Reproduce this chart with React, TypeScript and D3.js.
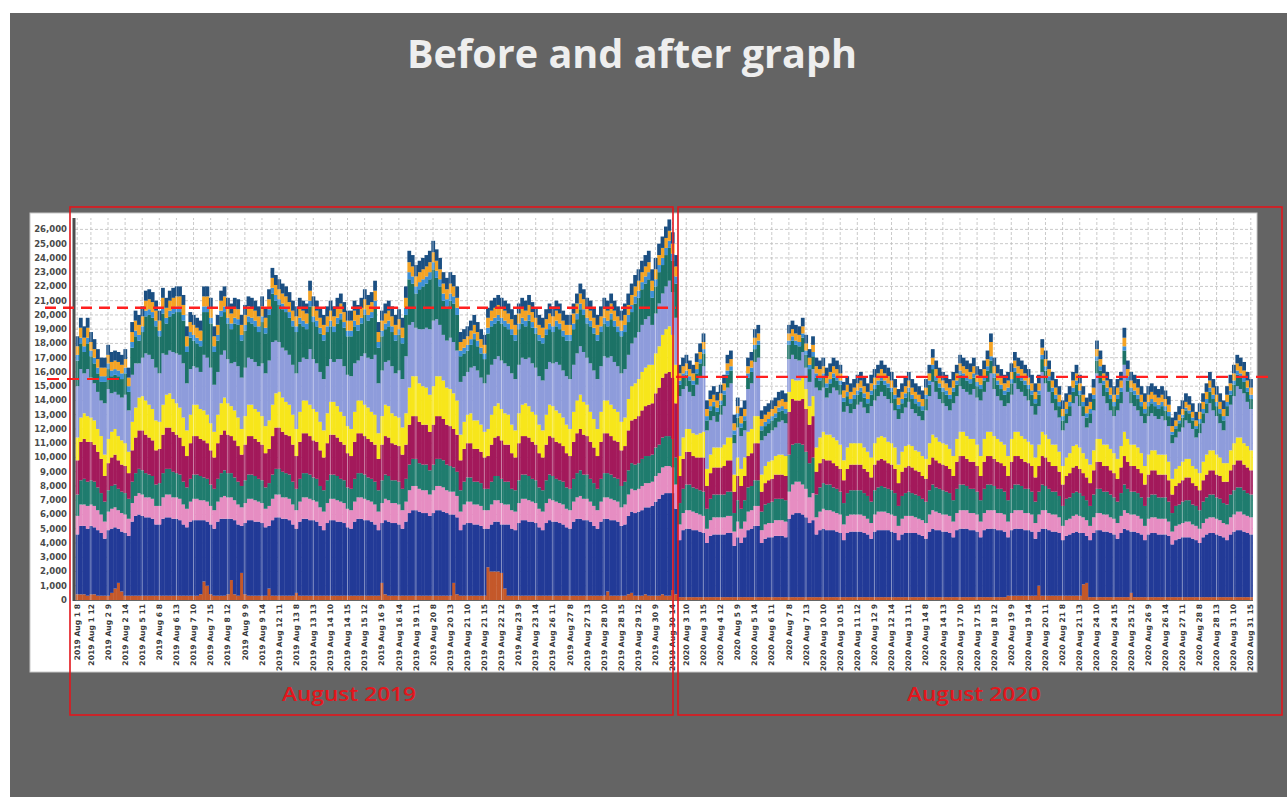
import React, { useEffect, useRef } from "react";
import * as d3 from "d3";

const W = 1287;
const H = 797;

// weekdays shown, hourly bars 8..15
const days2019 = [1, 2, 5, 6, 7, 8, 9, 12, 13, 14, 15, 16, 19, 20, 21, 22, 23, 26, 27, 28, 29, 30];
const days2020 = [3, 4, 5, 6, 7, 10, 11, 12, 13, 14, 17, 18, 19, 20, 21, 24, 25, 26, 27, 28, 31];
const hours = [8, 9, 10, 11, 12, 13, 14, 15];

const yTicks = d3.range(0, 26001, 1000);
const avg2019 = 20500;
const avg2020 = 15650;

// values in hundreds, one row per day (22 rows for 2019, then 21 rows for 2020)
const brown = [
  [4,4,4,3,4,4,3,3],[3,3,5,8,12,6,3,3],[3,3,3,3,3,3,3,3],[3,3,3,3,3,3,3,3],[3,3,3,3,4,13,10,4],
  [3,3,3,3,4,14,4,3],[19,4,3,3,3,3,3,3],[8,3,3,3,3,3,3,3],[5,3,3,3,3,3,3,3],[3,3,3,3,3,3,3,3],
  [3,3,3,3,3,3,3,3],[3,12,4,3,3,3,3,3],[3,3,3,3,3,3,3,3],[3,3,3,3,3,3,12,4],[3,3,3,3,3,3,3,3],
  [23,20,20,20,19,8,3,3],[3,3,3,3,3,3,3,3],[3,3,3,3,3,3,3,3],[3,3,3,3,3,3,3,3],[3,3,3,6,3,3,3,3],
  [3,4,5,3,3,3,4,3],[3,3,3,4,3,3,7,4],
  [2,2,2,2,2,2,2,2],[2,2,2,2,2,2,2,2],[2,2,2,2,2,2,2,2],[2,2,2,2,2,2,2,2],[2,2,2,2,2,2,2,2],
  [2,2,2,2,2,2,2,2],[2,2,2,2,2,2,2,2],[2,2,2,2,2,2,2,2],[2,2,2,2,2,2,2,2],[2,2,2,2,2,2,2,2],
  [2,2,2,2,2,2,2,2],[2,2,2,2,2,2,2,2],[3,3,3,3,3,3,3,3],[3,10,3,3,3,3,3,3],[3,3,3,3,3,3,11,12],
  [2,2,2,2,2,2,2,2],[2,2,2,2,5,2,2,2],[2,2,2,2,2,2,2,2],[2,2,2,2,2,2,2,2],[2,2,2,2,2,2,2,2],
  [2,2,2,2,2,2,2,2],
];
const blue = [
  [42,48,48,47,48,47,46,44],[40,46,45,43,38,42,44,42],[52,56,57,56,55,55,54,50],[50,54,55,55,54,54,53,50],
  [48,52,53,53,52,43,45,49],[47,52,54,54,53,43,52,50],[33,50,53,53,52,52,51,48],[44,53,55,55,54,54,53,50],
  [45,52,54,54,53,53,52,49],[46,51,53,53,52,52,51,48],[47,52,54,54,53,53,52,50],[46,42,52,52,51,51,50,47],
  [52,58,60,60,59,58,58,56],[58,60,60,59,58,57,48,54],[46,50,51,51,50,50,49,47],[27,33,35,35,34,45,50,47],
  [46,51,53,53,52,52,51,48],[46,51,53,52,52,51,50,48],[47,52,54,54,53,53,52,49],[47,52,54,51,53,53,52,49],
  [50,55,57,58,59,60,61,62],[63,66,68,70,72,72,68,60],
  [40,47,48,48,47,47,46,45],[38,43,44,44,44,44,45,45],[36,42,38,42,47,48,50,50],[38,41,42,42,43,43,43,42],
  [55,58,59,59,58,56,52,54],[44,47,48,47,47,47,46,45],[40,45,46,46,46,46,45,44],[41,46,47,47,47,47,46,45],
  [40,44,45,45,45,45,44,43],[41,46,48,47,47,46,46,45],[42,47,48,48,48,47,47,46],[42,47,48,48,48,47,47,46],
  [41,46,47,47,47,46,46,45],[40,38,47,47,46,45,45,44],[39,42,43,44,45,44,36,33],[40,45,47,47,46,46,45,44],
  [41,45,48,47,43,46,45,44],[40,44,45,45,44,44,44,43],[37,40,41,42,42,42,41,40],[38,42,44,45,45,44,43,42],
  [40,44,46,47,47,46,45,44],
];
const pink = [
  [13,15,15,16,15,15,14,13],[12,13,14,14,13,13,13,12],[13,14,15,15,14,14,14,13],[13,15,16,16,15,15,15,14],
  [13,14,15,15,14,14,14,13],[13,14,15,16,15,15,14,14],[13,14,15,15,15,14,14,13],[14,15,16,16,15,15,15,14],
  [13,14,15,15,15,14,14,13],[13,14,15,15,15,14,14,13],[13,14,15,15,15,14,14,14],[13,14,15,15,14,14,14,13],
  [14,16,17,17,16,16,16,15],[16,17,17,17,16,16,16,15],[13,14,15,15,14,14,14,13],[13,14,15,15,15,14,14,13],
  [13,14,15,15,15,14,14,13],[13,14,15,15,14,14,14,13],[13,14,15,16,15,15,14,14],[13,14,15,15,15,14,14,13],
  [14,15,16,16,16,17,17,17],[17,18,18,19,19,19,18,17],
  [11,12,13,13,13,12,12,12],[10,11,12,12,12,12,12,12],[10,11,10,11,13,13,14,14],[9,10,10,10,11,11,11,11],
  [19,21,22,22,21,20,18,19],[12,13,14,14,14,13,13,13],[11,12,12,12,12,12,12,11],[11,12,13,13,13,12,12,12],
  [10,11,12,12,12,11,11,11],[11,12,13,13,12,12,12,12],[11,12,13,13,13,12,12,12],[11,12,13,13,13,12,12,12],
  [11,12,13,13,13,12,12,12],[11,12,13,13,12,12,12,11],[10,11,11,12,12,12,11,11],[10,11,12,12,12,12,11,11],
  [11,12,13,12,12,12,12,11],[10,11,11,11,11,11,11,10],[9,10,10,10,11,11,10,10],[10,10,11,11,11,11,11,10],
  [11,12,12,13,13,12,12,12],
];
const teal = [
  [15,17,18,17,17,17,16,15],[14,15,16,16,15,15,15,14],[15,16,17,17,17,16,16,15],[16,17,18,18,18,17,17,16],
  [15,16,17,17,17,16,16,15],[15,16,17,18,17,17,16,16],[15,16,17,17,17,16,16,15],[16,17,18,18,18,17,17,16],
  [15,16,17,17,17,16,16,15],[15,16,17,17,17,16,16,15],[15,16,17,17,17,16,16,16],[15,16,17,17,16,16,16,15],
  [16,18,19,19,18,18,18,17],[18,19,19,19,18,18,17,17],[15,16,17,17,16,16,16,15],[15,16,17,17,17,16,16,15],
  [15,16,17,17,17,16,16,15],[15,16,17,17,16,16,16,15],[15,16,17,18,17,17,16,16],[15,16,17,17,17,16,16,15],
  [16,17,18,18,18,19,19,19],[19,20,20,21,21,21,20,19],
  [15,17,18,18,17,17,17,17],[14,15,16,16,16,16,17,17],[13,15,14,15,17,17,18,18],[13,14,14,15,15,15,15,15],
  [26,28,27,27,28,26,24,25],[16,17,18,18,18,17,17,16],[15,16,17,17,17,17,16,16],[15,17,17,18,17,17,17,16],
  [14,16,16,17,16,16,16,15],[15,17,18,17,17,17,16,16],[15,17,18,18,17,17,17,16],[15,17,18,18,17,17,17,16],
  [15,17,18,18,17,17,17,16],[15,16,18,17,17,16,16,15],[14,15,15,16,16,16,15,14],[14,16,17,17,16,16,16,15],
  [15,16,18,17,16,16,16,15],[14,15,16,16,15,15,15,14],[13,14,14,15,15,15,14,14],[13,15,15,16,16,15,15,14],
  [14,16,17,17,17,17,16,16],
];
const crimson = [
  [24,27,28,28,27,26,25,24],[18,19,20,21,20,19,19,18],[22,25,27,28,27,26,25,24],[24,27,29,29,28,27,26,25],
  [22,25,27,27,26,26,25,24],[22,25,27,28,27,26,26,25],[22,25,27,27,26,26,25,24],[24,27,29,29,28,27,27,26],
  [23,26,28,28,27,26,26,25],[23,26,28,28,27,26,25,24],[23,26,28,28,27,27,26,26],[22,25,27,27,26,25,25,24],
  [24,28,30,30,29,28,28,27],[28,30,30,29,28,28,27,26],[21,23,24,24,23,23,22,22],[23,26,27,28,27,26,26,25],
  [23,26,27,27,27,26,25,24],[23,25,27,27,26,26,25,24],[23,26,28,29,28,27,26,25],[23,26,28,28,27,26,26,25],
  [25,28,30,32,33,34,35,36],[36,38,40,42,44,45,43,38],
  [19,21,23,23,22,22,23,24],[16,18,19,19,19,20,22,22],[15,17,16,17,22,23,26,26],[14,15,16,16,17,17,17,17],
  [30,32,30,30,32,30,27,29],[16,17,17,17,17,17,16,16],[16,17,18,18,18,18,17,17],[17,18,19,19,19,18,18,17],
  [16,17,18,18,18,17,17,16],[16,18,19,19,18,18,18,17],[17,19,20,20,19,19,19,18],[17,19,20,20,19,19,18,18],
  [17,19,20,20,19,19,18,18],[17,18,20,20,19,18,18,17],[15,16,17,18,18,17,16,16],[16,17,19,19,18,18,17,17],
  [16,18,20,19,18,18,17,17],[15,16,17,17,16,16,16,15],[13,14,15,15,16,16,15,14],[14,15,16,17,17,16,16,15],
  [16,17,18,19,19,18,18,17],
];
const yellow = [
  [16,17,18,18,17,17,16,16],[15,17,18,18,17,17,16,15],[20,21,23,24,24,23,22,21],[19,21,23,24,23,22,21,20],
  [18,20,22,22,21,21,20,19],[18,20,22,23,22,21,21,20],[18,20,22,22,21,21,20,19],[20,22,24,25,24,23,22,21],
  [19,21,23,23,22,22,21,20],[19,21,23,23,22,21,20,19],[19,21,23,23,22,22,21,21],[18,20,22,22,21,20,20,19],
  [22,26,28,28,27,27,26,26],[27,28,28,27,26,26,25,24],[18,19,20,21,20,20,19,18],[19,21,22,23,22,22,21,20],
  [19,21,22,23,22,21,21,20],[19,21,22,22,22,21,20,20],[19,21,23,24,23,22,21,20],[19,21,23,23,22,22,21,20],
  [20,22,24,25,26,27,27,28],[27,28,29,30,31,32,30,27],
  [14,15,16,16,16,16,17,18],[12,13,14,14,14,15,16,16],[12,13,12,13,17,17,19,19],[12,12,13,13,13,14,14,14],
  [14,14,14,14,15,14,13,14],[17,18,19,18,18,18,18,17],[14,15,15,15,15,15,15,14],[14,15,16,16,16,15,15,15],
  [13,14,15,15,15,14,14,14],[14,15,16,16,15,15,15,14],[14,16,17,17,16,16,16,15],[14,16,17,17,16,16,15,15],
  [14,16,17,17,16,16,15,15],[14,15,17,16,16,15,15,14],[13,13,14,15,15,15,14,13],[13,14,16,16,15,15,15,14],
  [14,15,17,16,15,15,15,14],[13,14,14,14,14,14,14,13],[11,12,12,13,13,13,12,12],[12,13,14,14,14,14,13,13],
  [13,14,15,16,16,15,15,14],
];
const lavender = [
  [36,34,28,33,28,26,26,25],[36,35,27,26,29,30,34,29],[33,31,24,27,33,35,35,37],[34,36,28,30,33,35,37,38],
  [33,32,27,26,26,39,40,39],[33,30,34,33,31,30,34,36],[36,34,33,32,33,32,37,37],[42,44,37,35,35,36,35,35],
  [39,35,30,29,39,35,34,35],[36,33,30,28,33,37,35,36],[37,34,28,31,36,35,37,42],[35,32,30,32,33,30,33,34],
  [40,44,38,34,38,40,42,46],[46,40,36,32,33,36,36,35],[37,32,30,32,38,35,33,34],[38,35,33,33,34,35,34,36],
  [36,34,33,31,34,34,33,34],[35,32,30,30,34,34,33,34],[35,33,33,34,35,33,34,34],[35,32,31,30,34,33,32,34],
  [34,31,30,32,33,33,34,34],[28,28,30,29,30,32,30,33],
  [42,34,30,26,26,35,40,46],[27,24,22,18,23,27,35,38],[22,21,23,19,30,32,38,41],[24,21,20,21,20,23,24,23],
  [23,17,15,14,18,15,17,19],[42,33,31,26,29,35,35,35],[34,29,21,24,27,29,28,27],[36,30,29,31,29,30,28,26],
  [32,27,27,30,26,26,25,25],[34,33,37,32,30,28,27,27],[37,30,32,30,31,31,35,33],[39,33,35,41,33,30,29,27],
  [37,31,34,30,31,30,29,27],[30,27,42,36,33,29,24,24],[25,24,26,30,34,29,26,22],[29,28,46,39,34,29,27,26],
  [34,30,47,33,29,27,26,26],[30,27,26,24,25,27,24,25],[25,22,24,24,27,25,26,22],[28,27,29,33,28,27,24,23],
  [33,32,33,36,34,35,31,29],
];
const green = [
  [18,18,15,18,15,14,13,13],[15,14,12,12,13,13,15,13],[19,19,16,18,26,28,29,29],[26,28,22,24,27,29,30,30],
  [22,22,18,17,18,30,32,31],[23,22,27,27,25,24,27,29],[26,26,25,25,25,24,29,28],[32,34,28,26,27,27,26,27],
  [29,27,22,21,30,26,26,27],[27,24,23,21,25,28,27,27],[28,26,21,23,27,26,29,34],[25,24,23,24,24,23,25,25],
  [29,32,27,24,28,30,31,35],[36,29,27,24,24,26,27,25],[18,16,15,16,19,17,17,17],[29,27,25,25,26,26,26,27],
  [27,25,24,23,26,25,24,25],[26,24,23,22,25,25,24,25],[27,25,24,26,26,24,26,26],[27,24,23,22,26,25,24,26],
  [26,23,22,24,24,25,25,26],[19,19,22,20,22,23,22,24],
  [8,8,8,8,8,8,9,9],[7,7,7,7,7,8,9,9],[6,7,6,7,8,8,9,9],[7,7,7,7,7,7,7,7],
  [10,10,10,10,10,9,9,9],[7,7,7,7,7,7,7,7],[7,7,7,7,7,7,7,7],[8,8,8,8,8,8,8,8],
  [7,7,7,7,7,7,7,7],[8,8,9,8,8,8,8,8],[8,8,8,8,8,8,8,8],[8,8,8,9,8,8,8,8],
  [8,8,8,8,8,8,8,8],[8,8,9,9,8,8,8,8],[7,7,7,8,8,8,7,7],[7,8,9,9,8,8,8,7],
  [8,8,10,8,8,8,8,7],[7,7,7,7,7,7,7,7],[6,6,6,7,7,7,6,6],[7,7,7,8,8,7,7,7],
  [7,7,8,8,8,8,7,7],
];
const lightBlue = [
  [4,4,4,4,4,4,4,4],[4,4,4,4,4,4,4,4],[4,4,4,4,4,4,4,4],[4,4,4,4,4,4,4,4],[4,4,4,4,4,4,4,4],
  [4,4,4,4,4,4,4,4],[4,4,4,4,4,4,4,4],[4,4,4,4,4,4,4,4],[4,4,4,4,4,4,4,4],[4,4,4,4,4,4,4,4],
  [4,4,4,4,4,4,4,4],[4,4,4,4,4,4,4,4],[5,5,5,5,5,5,5,5],[5,5,5,5,5,5,5,5],[4,4,4,4,4,4,4,4],
  [4,4,4,4,4,4,4,4],[4,4,4,4,4,4,4,4],[4,4,4,4,4,4,4,4],[4,4,4,4,4,4,4,4],[4,4,4,4,4,4,4,4],
  [5,5,5,5,5,5,5,5],[5,5,5,5,5,5,5,5],
  [3,3,3,3,3,3,3,3],[3,3,3,3,3,3,3,3],[3,3,3,3,3,3,3,3],[3,3,3,3,3,3,3,3],[3,3,3,3,3,3,3,3],
  [3,3,3,3,3,3,3,3],[3,3,3,3,3,3,3,3],[3,3,3,3,3,3,3,3],[3,3,3,3,3,3,3,3],[3,3,3,3,3,3,3,3],
  [3,3,3,3,3,3,3,3],[3,3,3,3,3,3,3,3],[3,3,3,3,3,3,3,3],[3,3,3,3,3,3,3,3],[3,3,3,3,3,3,3,3],
  [3,3,3,3,3,3,3,3],[3,3,3,3,3,3,3,3],[3,3,3,3,3,3,3,3],[2,2,2,2,2,2,2,2],[3,3,3,3,3,3,3,3],
  [3,3,3,3,3,3,3,3],
];
const orange = [
  [6,7,6,7,6,6,6,6],[6,6,6,6,6,6,6,6],[7,7,7,7,7,7,7,7],[7,7,7,7,7,7,7,7],[7,7,7,7,7,7,7,7],
  [7,7,7,7,7,7,7,7],[7,7,7,7,7,7,7,7],[7,7,7,7,7,7,7,7],[7,7,7,7,7,7,7,7],[7,7,7,7,7,7,7,7],
  [7,7,7,7,7,7,7,7],[7,7,7,7,7,7,7,7],[7,7,7,7,7,7,7,7],[7,7,7,7,7,7,7,7],[6,6,6,6,6,6,6,6],
  [7,7,7,7,7,7,7,7],[7,7,7,7,7,7,7,7],[7,7,7,7,7,7,7,7],[7,7,7,7,7,7,7,7],[7,7,7,7,7,7,7,7],
  [7,7,7,7,7,7,7,7],[7,7,7,7,7,7,7,7],
  [5,5,5,5,5,5,5,5],[5,5,5,5,5,5,5,5],[5,5,5,5,5,5,5,5],[5,5,5,5,5,5,5,5],[5,5,5,5,5,5,5,5],
  [5,5,5,5,5,5,5,5],[5,5,5,5,5,5,5,5],[5,5,5,5,5,5,5,5],[5,5,5,5,5,5,5,5],[5,5,5,5,5,5,5,5],
  [5,5,5,5,5,5,5,5],[5,5,5,10,5,5,5,5],[5,5,5,5,5,5,5,5],[5,5,5,5,5,5,5,5],[5,5,5,5,5,5,5,5],
  [5,5,5,5,5,5,5,5],[5,5,6,5,5,5,5,5],[5,5,5,5,5,5,5,5],[4,4,4,4,4,4,4,4],[5,5,5,5,5,5,5,5],
  [5,5,5,5,5,5,5,5],
];
const navy = [
  [7,7,8,7,7,7,7,7],[7,7,7,7,7,7,7,7],[7,7,7,7,7,7,7,7],[7,7,7,7,7,7,7,7],[7,7,7,7,7,7,7,7],
  [7,7,7,7,7,7,7,7],[7,7,7,7,7,7,7,7],[7,7,7,7,7,7,7,7],[7,7,7,7,7,7,7,7],[7,7,7,7,7,7,7,7],
  [7,7,7,7,7,7,7,7],[7,7,7,7,7,7,7,7],[8,8,8,8,8,8,8,8],[8,8,8,8,8,8,8,8],[7,7,7,7,7,7,7,7],
  [7,7,7,7,7,7,7,7],[7,7,7,7,7,7,7,7],[7,7,7,7,7,7,7,7],[7,7,7,7,7,7,7,7],[7,7,7,7,7,7,7,7],
  [8,8,8,8,8,8,8,8],[8,8,8,8,8,8,8,8],
  [6,6,6,6,6,6,6,6],[6,6,6,6,6,6,6,6],[6,6,6,6,6,6,6,6],[6,6,6,6,6,6,6,6],[6,6,6,6,6,6,6,6],
  [6,6,6,6,6,6,6,6],[6,6,6,6,6,6,6,6],[6,6,6,6,6,6,6,6],[6,6,6,6,6,6,6,6],[6,6,6,6,6,6,6,6],
  [6,6,6,6,6,6,6,6],[6,6,6,6,6,6,6,6],[6,6,6,6,6,6,6,6],[6,6,6,6,6,6,6,6],[6,6,6,6,6,6,6,6],
  [6,6,6,6,6,6,6,6],[6,6,7,6,6,6,6,6],[6,6,6,6,6,6,6,6],[6,6,6,6,6,6,6,6],[6,6,6,6,6,6,6,6],
  [6,6,6,6,6,6,6,6],
];

const series = [
  { key: "brown", rows: brown, color: "#c4582a" },
  { key: "blue", rows: blue, color: "#223a97" },
  { key: "pink", rows: pink, color: "#e68dc2" },
  { key: "teal", rows: teal, color: "#1f7c6e" },
  { key: "crimson", rows: crimson, color: "#a3195b" },
  { key: "yellow", rows: yellow, color: "#f7e61b" },
  { key: "lavender", rows: lavender, color: "#8e9cdb" },
  { key: "green", rows: green, color: "#1c7266" },
  { key: "lightBlue", rows: lightBlue, color: "#3d8fd6" },
  { key: "orange", rows: orange, color: "#f4a324" },
  { key: "navy", rows: navy, color: "#1b4f82" },
];

function App() {
  const ref = useRef<SVGSVGElement>(null);

  useEffect(() => {
    const svg = d3.select(ref.current);
    svg.selectAll("*").remove();

    // categories: year / day / hour
    const cats: string[] = [];
    days2019.forEach((d) => hours.forEach((h) => cats.push(`2019 Aug ${d} ${h}`)));
    days2020.forEach((d) => hours.forEach((h) => cats.push(`2020 Aug ${d} ${h}`)));
    const n2019 = days2019.length * hours.length;

    const flat = series.map((s) => s.rows.flat());
    const rows = cats.map((c, i) => {
      const r: any = { cat: c };
      series.forEach((s, k) => (r[s.key] = flat[k][i] * 100));
      return r;
    });
    const stacked = d3.stack().keys(series.map((s) => s.key))(rows);

    const x = d3.scaleBand().domain(cats).range([75.5, 1252.5]).padding(0);
    const y = d3.scaleLinear().domain([0, 26800]).range([600, 218]);

    // slide background
    svg.append("rect").attr("width", W).attr("height", H).attr("fill", "#fff");
    svg.append("rect").attr("x", 10).attr("y", 13).attr("width", W - 10).attr("height", H - 13).attr("fill", "#646464");

    svg
      .append("text")
      .attr("x", 632)
      .attr("y", 68)
      .attr("text-anchor", "middle")
      .attr("textLength", 450)
      .attr("lengthAdjust", "spacingAndGlyphs")
      .style("font-family", "'Open Sans', sans-serif")
      .style("font-weight", 700)
      .style("font-size", "40px")
      .style("fill", "#eeeeee")
      .text("Before and after graph");

    // chart panel
    svg.append("rect").attr("x", 30).attr("y", 213).attr("width", 1227).attr("height", 459)
      .attr("fill", "#fff").attr("stroke", "#c8c8c8");

    const tickCats = cats.filter((c, i) =>
      i < n2019 ? i === 0 || i % 5 === 4 : (i - n2019) % 5 === 2
    );
    const cx = (c: string) => (x(c) as number) + x.bandwidth() / 2;

    // grid
    const grid = svg.append("g").attr("stroke", "#bdbdbd").attr("stroke-width", 0.8).attr("stroke-dasharray", "3,2");
    grid.selectAll("line.h").data(yTicks.slice(1)).enter().append("line")
      .attr("x1", 75).attr("x2", 1253).attr("y1", (d) => y(d)).attr("y2", (d) => y(d));
    grid.selectAll("line.v").data(tickCats).enter().append("line")
      .attr("x1", cx).attr("x2", cx).attr("y1", y(0)).attr("y2", 218);

    // stacked bars
    svg.append("g").selectAll("g").data(stacked).enter().append("g")
      .attr("fill", (d, i) => series[i].color)
      .selectAll("rect").data((d) => d).enter().append("rect")
      .attr("x", (d: any) => x(d.data.cat) as number)
      .attr("width", x.bandwidth() + 0.35)
      .attr("y", (d) => y(d[1]))
      .attr("height", (d) => Math.max(0, y(d[0]) - y(d[1])));

    // light separators over the bars
    svg.append("g").attr("stroke", "#ffffff").attr("stroke-opacity", 0.45).attr("stroke-width", 1)
      .selectAll("line").data(tickCats).enter().append("line")
      .attr("x1", cx).attr("x2", cx)
      .attr("y1", y(0))
      .attr("y2", (c) => {
        const i = cats.indexOf(c);
        return y(stacked[stacked.length - 1][i][1]);
      });

    // axes
    svg.append("line").attr("x1", 74).attr("x2", 1253).attr("y1", 600.5).attr("y2", 600.5)
      .attr("stroke", "#666").attr("stroke-width", 1);
    svg.append("line").attr("x1", 74).attr("x2", 74).attr("y1", 218).attr("y2", 601)
      .attr("stroke", "#4d4d4d").attr("stroke-width", 3);

    svg.append("g").selectAll("text").data(yTicks).enter().append("text")
      .attr("x", 67).attr("y", (d) => y(d)).attr("dy", "0.35em")
      .attr("text-anchor", "end")
      .style("font-family", "'DejaVu Sans', sans-serif")
      .style("font-weight", 700)
      .style("font-size", "8.5px")
      .style("fill", "#4a4a4a")
      .text((d) => d3.format(",")(d));

    svg.append("g").selectAll("text").data(tickCats).enter().append("text")
      .attr("transform", (c) => `translate(${cx(c)},604) rotate(-90)`)
      .attr("dy", "0.35em")
      .attr("text-anchor", "end")
      .style("font-family", "'DejaVu Sans', sans-serif")
      .style("font-weight", 700)
      .style("font-size", "7.6px")
      .style("fill", "#3a3a3a")
      .text((c) => c);

    // average lines
    const red = "#ff1f1f";
    svg.append("line").attr("x1", 45).attr("x2", 676).attr("y1", y(avg2019)).attr("y2", y(avg2019))
      .attr("stroke", red).attr("stroke-width", 2.5).attr("stroke-dasharray", "11,7");
    svg.append("line").attr("x1", 676).attr("x2", 1272).attr("y1", y(avg2020)).attr("y2", y(avg2020))
      .attr("stroke", red).attr("stroke-width", 2.2).attr("stroke-dasharray", "12,8");
    svg.append("line").attr("x1", 47).attr("x2", 127).attr("y1", y(avg2020) + 2).attr("y2", y(avg2020) + 2)
      .attr("stroke", red).attr("stroke-width", 2).attr("stroke-dasharray", "12,8");

    // year boxes
    const boxes = [
      { x0: 70, x1: 673, cx: 349, label: "August 2019" },
      { x0: 678, x1: 1282, cx: 974, label: "August 2020" },
    ];
    boxes.forEach((b) => {
      svg.append("rect").attr("x", b.x0).attr("y", 207).attr("width", b.x1 - b.x0).attr("height", 508)
        .attr("fill", "none").attr("stroke", "#e3161c").attr("stroke-width", 1.6);
      svg.append("text")
        .attr("x", b.cx)
        .attr("y", 701)
        .attr("text-anchor", "middle")
        .attr("textLength", 134)
        .attr("lengthAdjust", "spacingAndGlyphs")
        .style("font-family", "'Open Sans', sans-serif")
        .style("font-weight", 600)
        .style("font-size", "19px")
        .style("fill", "#e3161c")
        .text(b.label);
    });
  }, []);

  return (
    <svg
      ref={ref}
      width={W}
      height={H}
      style={{ position: "absolute", left: 0, top: 0, display: "block" }}
    />
  );
}

export default App;
